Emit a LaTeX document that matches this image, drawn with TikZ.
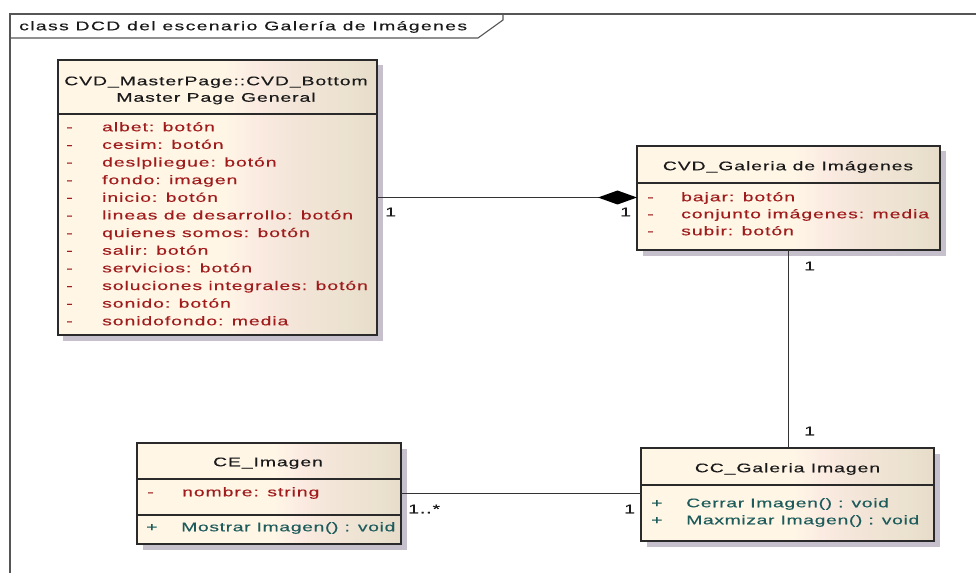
\documentclass[tikz,border=0pt]{standalone}
\usepackage{fontspec}
\setmainfont{Liberation Sans}[FakeStretch=1.55,LetterSpace=7.5,FakeBold=0.35]
\usetikzlibrary{arrows.meta,shadows}

\definecolor{framec}{HTML}{555555}
\definecolor{borderc}{HTML}{2A2A2A}
\definecolor{linec}{HTML}{333333}
\definecolor{titlec}{HTML}{1A1A1A}
\definecolor{attrc}{HTML}{A01C1C}
\definecolor{opc}{HTML}{1E5C5C}
\definecolor{shadowc}{HTML}{C6C0CC}
\definecolor{creamc}{HTML}{FFF6E6}
\definecolor{pinkc}{HTML}{FBEBE2}
\definecolor{pinkd}{HTML}{F3E5D8}
\definecolor{tanc}{HTML}{ECE2D0}
\definecolor{tand}{HTML}{E6DCC9}

% fill of the class boxes: cream on the left, warming to tan on the right
\pgfdeclarehorizontalshading{umlfill}{100bp}{color(0bp)=(creamc); color(25bp)=(creamc);
  color(51bp)=(creamc); color(56bp)=(pinkc); color(62bp)=(pinkd); color(70bp)=(tanc);
  color(75bp)=(tand); color(100bp)=(tand)}

\newcommand\umlfont{\fontsize{12.5bp}{15bp}\selectfont}
\newcommand\operfont{\fontsize{12.5bp}{15bp}\selectfont\addfontfeature{LetterSpace=5}}

\begin{document}
\begin{tikzpicture}[x=1bp,y=-1bp,
  classbox/.style={draw=borderc, line width=1.4bp, shading=umlfill, inner sep=0pt, outer sep=0pt,
    drop shadow={shadow xshift=5.5bp, shadow yshift=-5.5bp, fill=shadowc, opacity=1}},
  sep/.style={draw=borderc, line width=1.2bp},
  txt/.style={inner sep=0pt, font=\umlfont, text height=9bp, text depth=2.5bp},
  ctitle/.style={txt, text=titlec},
  attr/.style={txt, text=attrc, anchor=west},
  oper/.style={txt, font=\operfont, text=opc, anchor=west},
  mult/.style={txt, text=titlec, anchor=west},
  conn/.style={draw=linec, line width=1.6bp},
  frameline/.style={draw=framec, line width=1.6bp}]

\useasboundingbox (0,0) rectangle (976,573);
\fill[white] (0,0) rectangle (976,573);

% diagram frame with its name tab
\coordinate (fbl) at (10,573);
\coordinate (ftl) at (10,14);
\coordinate (ftr) at (976,14);
\coordinate (tabl) at (10,38);
\coordinate (tabb) at (478,38);
\coordinate (tabk) at (503,20);
\coordinate (tabt) at (503,14);
\draw[frameline] (fbl) -- (ftl) -- (ftr);
\draw[draw=framec, line width=1.1bp] (tabl) -- (tabb) -- (tabk) -- (tabt);
\node[txt, text=titlec, anchor=west] (framelabel) at (19,27)
  {\addfontfeature{LetterSpace=11}class DCD del escenario Galería de Imágenes};

% ---- class boxes ----
\node[classbox, minimum width=319bp, minimum height=275bp] (mp) at (217.5,197.5) {};
\node[classbox, minimum width=303bp, minimum height=104bp] (gal) at (788.5,198) {};
\node[classbox, minimum width=264bp, minimum height=101bp] (ce) at (269,493.5) {};
\node[classbox, minimum width=293bp, minimum height=93bp] (cc) at (787.5,494.5) {};

% compartment separators
\draw[sep] (mp.west |- 0,114) -- (mp.east |- 0,114);
\draw[sep] (gal.west |- 0,183) -- (gal.east |- 0,183);
\draw[sep] (ce.west |- 0,479) -- (ce.east |- 0,479);
\draw[sep] (ce.west |- 0,515) -- (ce.east |- 0,515);
\draw[sep] (cc.west |- 0,485) -- (cc.east |- 0,485);

% ---- CVD_MasterPage::CVD_Bottom ----
\node[ctitle] (mpt1) at (216,82) {CVD\_MasterPage::CVD\_Bottom};
\node[ctitle] (mpt2) at (216,98.5) {Master Page General};
\foreach \t [count=\i from 0] in {albet: botón, cesim: botón, deslpliegue: botón,
    fondo: imagen, inicio: botón, lineas de desarrollo: botón, quienes somos: botón,
    salir: botón, servicios: botón, soluciones integrales: botón, sonido: botón,
    sonidofondo: media}{
  \node[attr] (mpm\i) at (66,{128+17.64*\i}) {-};
  \node[attr] (mpa\i) at (102,{128+17.64*\i}) {\t};
}

% ---- CVD_Galeria de Imágenes ----
\node[ctitle] (galt) at (788,167) {CVD\_Galeria de Imágenes};
\foreach \t [count=\i from 0] in {bajar: botón, conjunto imágenes: media, subir: botón}{
  \node[attr] (galm\i) at (647,{198+17*\i}) {-};
  \node[attr] (gala\i) at (681,{198+17*\i}) {\t};
}

% ---- CE_Imagen ----
\node[ctitle] (cet) at (268,463) {CE\_Imagen};
\node[attr] (cem0) at (147,493) {-};
\node[attr] (cea0) at (182,493) {nombre: string};
\node[oper] (ceo0m) at (146,528) {+};
\node[oper] (ceo0) at (181,528) {Mostrar Imagen() : void};

% ---- CC_Galeria Imagen ----
\node[ctitle] (cct) at (787.5,469) {CC\_Galeria Imagen};
\foreach \t [count=\i from 0] in {Cerrar Imagen() : void, Maxmizar Imagen() : void}{
  \node[oper] (ccm\i) at (651,{504+17*\i}) {+};
  \node[oper] (cco\i) at (686,{504+17*\i}) {\t};
}

% ---- relationships ----
\draw[conn, -{Diamond[length=39bp,width=14bp,color=black,fill=black]}] (mp.east) -- (mp.east -| gal.west);
\draw[conn] (gal.south) -- (gal.south |- cc.north);
\draw[conn] (ce.east) -- (ce.east -| cc.west);

% multiplicities
\node[mult] (m1) at (385,213) {1};
\node[mult] (m2) at (620,213) {1};
\node[mult] (m3) at (804,267) {1};
\node[mult] (m4) at (804,432) {1};
\node[mult] (m5) at (408,510) {1..*};
\node[mult] (m6) at (624,510) {1};

\end{tikzpicture}
\end{document}
